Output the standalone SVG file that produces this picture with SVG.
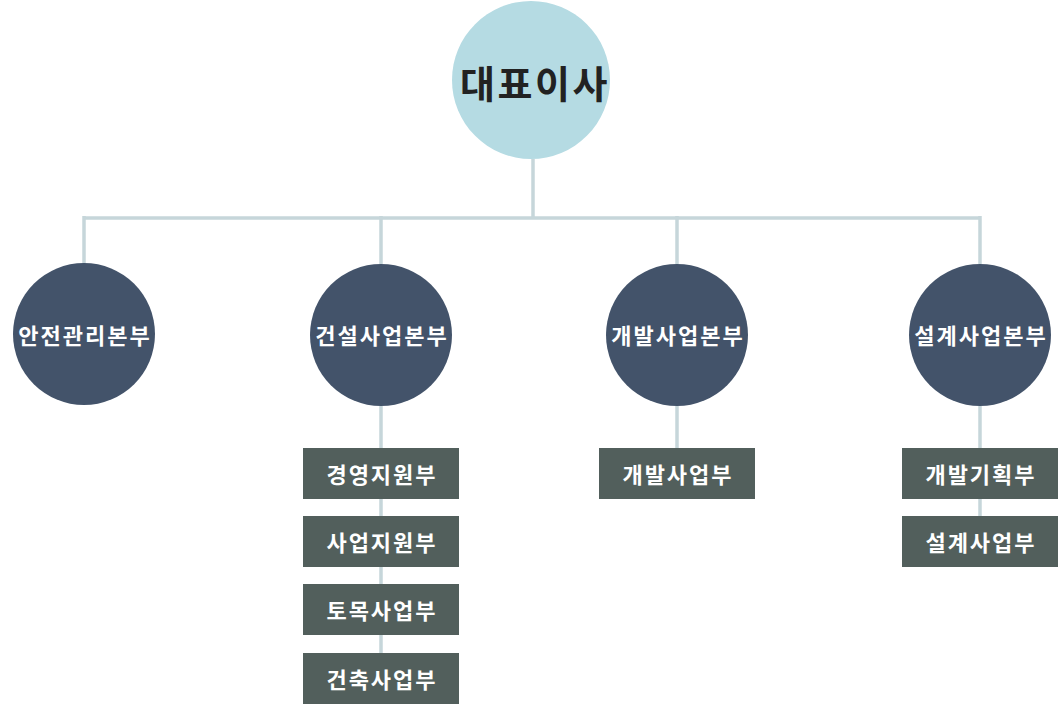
<svg xmlns="http://www.w3.org/2000/svg" width="1062" height="705" viewBox="0 0 1062 705">
<style>
.ln{stroke:#c6d6da;stroke-width:3.5;fill:none}
.ceo{fill:#b5dbe3}
.div{fill:#43536a}
.box{fill:#525f5c}
text{font-family:"Noto Sans CJK KR","Noto Sans",sans-serif;font-weight:bold;text-anchor:middle;dominant-baseline:central}
.t1{font-size:38px;letter-spacing:2.5px;fill:#222222}
.t2{font-size:22px;letter-spacing:2px;fill:#ffffff}
.t3{font-size:22px;letter-spacing:2px;fill:#ffffff}
</style>
<rect width="1062" height="705" fill="#ffffff"/>
<g id="connectors">
<path class="ln" d="M533 159V218M84 218H981M84 216V264M381 216V264M677 216V264M980 216V264"/>
<path class="ln" d="M381 406V680M677 406V470M980 406V540"/>
</g>
<g id="ceo"><circle class="ceo" cx="531" cy="80" r="79"/><text class="t1" x="535" y="81">대표이사</text></g>
<g id="safety"><circle class="div" cx="84" cy="334" r="71"/><text class="t2" x="85" y="334">안전관리본부</text></g>
<g id="construction"><circle class="div" cx="381" cy="335" r="71"/><text class="t2" x="382" y="334">건설사업본부</text></g>
<g id="development"><circle class="div" cx="677" cy="335" r="71"/><text class="t2" x="678" y="334">개발사업본부</text></g>
<g id="design"><circle class="div" cx="980" cy="335" r="71"/><text class="t2" x="981" y="334">설계사업본부</text></g>
<g id="mgmt"><rect class="box" x="303" y="448" width="156" height="51"/><text class="t3" x="382" y="473">경영지원부</text></g>
<g id="bizsupport"><rect class="box" x="303" y="516" width="156" height="51"/><text class="t3" x="382" y="541">사업지원부</text></g>
<g id="civil"><rect class="box" x="303" y="584" width="156" height="51"/><text class="t3" x="382" y="609">토목사업부</text></g>
<g id="arch"><rect class="box" x="303" y="653" width="156" height="51"/><text class="t3" x="382" y="678">건축사업부</text></g>
<g id="devbiz"><rect class="box" x="599" y="448" width="156" height="51"/><text class="t3" x="678" y="473">개발사업부</text></g>
<g id="devplan"><rect class="box" x="902" y="448" width="156" height="51"/><text class="t3" x="981" y="473">개발기획부</text></g>
<g id="designbiz"><rect class="box" x="902" y="516" width="156" height="51"/><text class="t3" x="981" y="541">설계사업부</text></g>
</svg>
